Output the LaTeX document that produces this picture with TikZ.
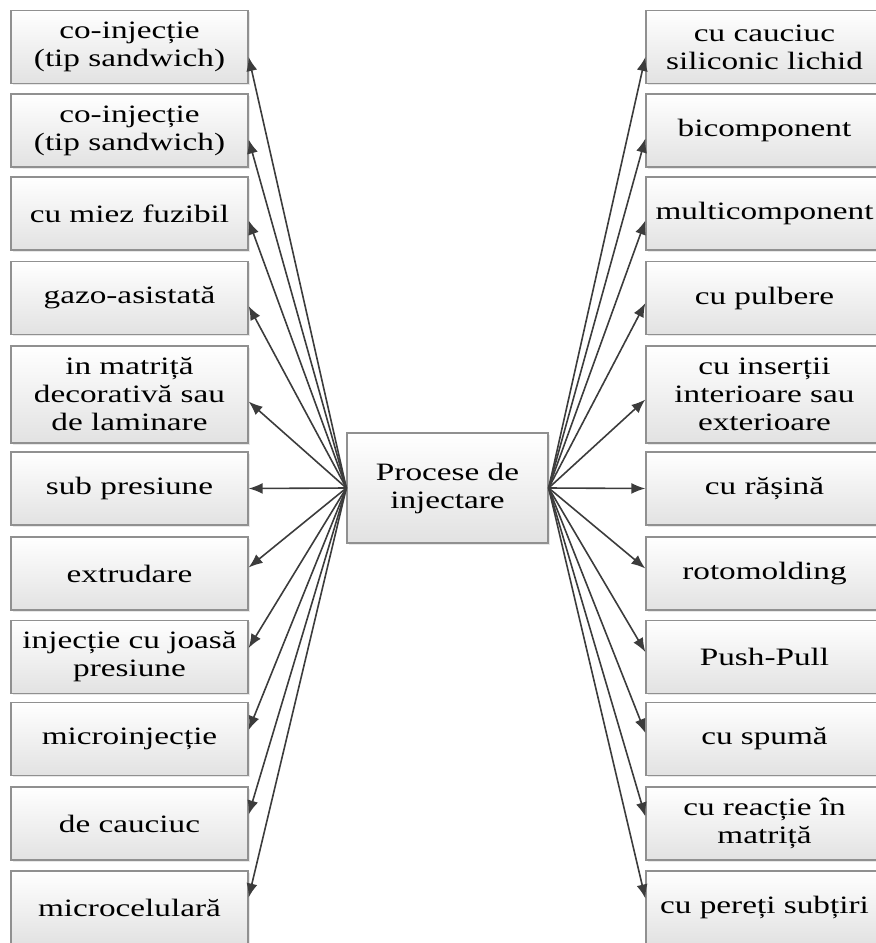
\documentclass[tikz,border=0pt]{standalone}
\usepackage{fontspec}
\setmainfont{Liberation Serif}[FakeStretch=1.33]
\usetikzlibrary{arrows.meta,shadows}
\definecolor{boxline}{HTML}{909090}
\definecolor{boxbot}{HTML}{E2E2E2}
\definecolor{arrowc}{HTML}{3C3C3C}
\begin{document}
\begin{tikzpicture}[x=1pt,y=-1pt,
  box/.style={draw=boxline, line width=1.3pt, top color=white, bottom color=boxbot,
    minimum width=237pt, minimum height=73pt, inner sep=0pt, align=center,
    font=\fontsize{25}{28}\selectfont,
    drop shadow={opacity=0.18, shadow xshift=1.5pt, shadow yshift=-1.5pt}},
  conn/.style={draw=arrowc, line width=1.6pt, -{Latex[length=14pt,width=11pt]}}]
\useasboundingbox (0,0) rectangle (876,943);
\clip (0,0) rectangle (876,943);
% left column
\node[box] (l1) at (129.5,47) {co-injecție\\(tip sandwich)};
\node[box] (l2) at (129.5,130.5) {co-injecție\\(tip sandwich)};
\node[box] (l3) at (129.5,213.5) {cu miez fuzibil};
\node[box] (l4) at (129.5,298) {gazo-asistată};
\node[box, minimum height=97pt] (l5) at (129.5,394.5) {in matriță\\decorativă sau\\de laminare};
\node[box] (l6) at (129.5,488.5) {sub presiune};
\node[box] (l7) at (129.5,573.5) {extrudare};
\node[box] (l8) at (129.5,657) {injecție cu joasă\\presiune};
\node[box] (l9) at (129.5,739) {microinjecție};
\node[box] (l10) at (129.5,823.5) {de cauciuc};
\node[box] (l11) at (129.5,907.5) {microcelulară};
% right column
\node[box] (r1) at (764.5,47) {cu cauciuc\\siliconic lichid};
\node[box] (r2) at (764.5,130.5) {bicomponent};
\node[box] (r3) at (764.5,213.5) {multicomponent};
\node[box] (r4) at (764.5,298) {cu pulbere};
\node[box, minimum height=97pt] (r5) at (764.5,394.5) {cu inserții\\interioare sau\\exterioare};
\node[box] (r6) at (764.5,488.5) {cu rășină};
\node[box] (r7) at (764.5,573.5) {rotomolding};
\node[box] (r8) at (764.5,657) {Push-Pull};
\node[box] (r9) at (764.5,739) {cu spumă};
\node[box] (r10) at (764.5,823.5) {cu reacție în\\matriță};
\node[box] (r11) at (764.5,907.5) {cu pereți subțiri};
% centre
\node[box, minimum width=201pt, minimum height=110pt] (c) at (447.5,488) {Procese de\\injectare};
% connectors
\draw[conn] (c.west) -- ([yshift=-10pt]l1.east);
\draw[conn] (c.west) -- ([yshift=-9pt]l2.east);
\draw[conn] (c.west) -- ([yshift=-7pt]l3.east);
\draw[conn] (c.west) -- ([yshift=-8pt]l4.east);
\draw[conn] (c.west) -- ([yshift=-7pt]l5.east);
\draw[conn] (c.west) -- (l6.east);
\draw[conn] (c.west) -- ([yshift=6pt]l7.east);
\draw[conn] (c.west) -- ([yshift=9pt]l8.east);
\draw[conn] (c.west) -- ([yshift=9pt]l9.east);
\draw[conn] (c.west) -- ([yshift=9pt]l10.east);
\draw[conn] (c.west) -- ([yshift=10pt]l11.east);
\draw[conn] (c.east) -- ([yshift=-10pt]r1.west);
\draw[conn] (c.east) -- ([yshift=-8pt]r2.west);
\draw[conn] (c.east) -- ([yshift=-7pt]r3.west);
\draw[conn] (c.east) -- ([yshift=-5pt]r4.west);
\draw[conn] (c.east) -- ([yshift=-5pt]r5.west);
\draw[conn] (c.east) -- (r6.west);
\draw[conn] (c.east) -- ([yshift=5pt]r7.west);
\draw[conn] (c.east) -- ([yshift=5pt]r8.west);
\draw[conn] (c.east) -- ([yshift=6pt]r9.west);
\draw[conn] (c.east) -- ([yshift=7pt]r10.west);
\draw[conn] (c.east) -- ([yshift=9pt]r11.west);
\end{tikzpicture}
\end{document}
